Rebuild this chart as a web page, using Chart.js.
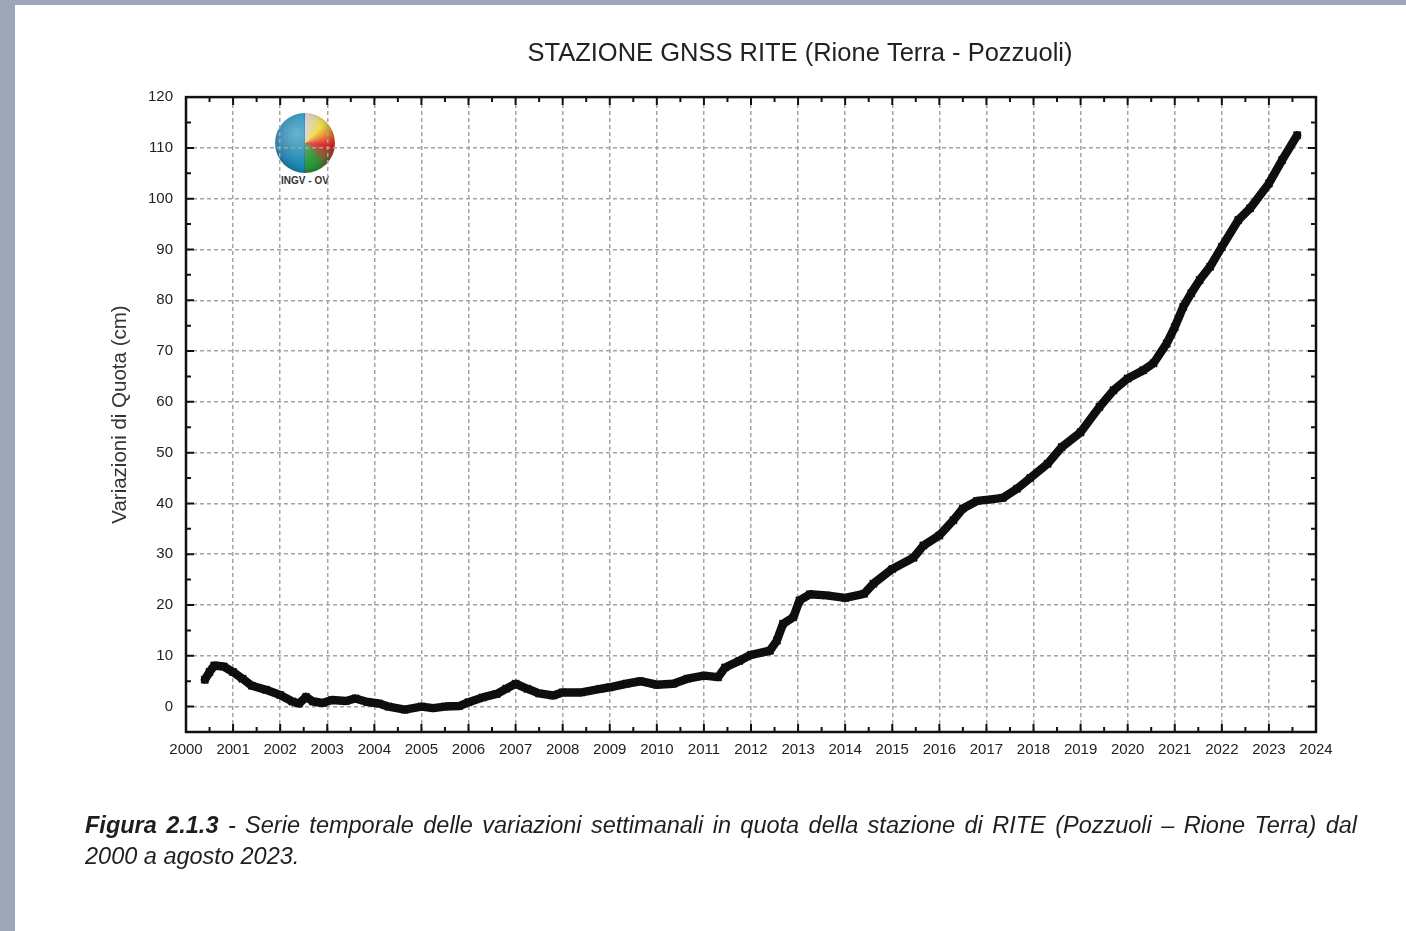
<!DOCTYPE html>
<html>
<head>
<meta charset="utf-8">
<script src="https://cdn.jsdelivr.net/npm/chart.js@4.4.1/dist/chart.umd.min.js"></script>
<style>
  html, body { margin: 0; padding: 0; }
  body { width: 1406px; height: 931px; background: #9ba7b8; position: relative; overflow: hidden; font-family: "Liberation Sans", Arial, sans-serif; }
  #page { position: absolute; left: 15px; top: 5px; width: 1391px; height: 926px; background: #ffffff; }
  #wrap { position: absolute; left: 0; top: 0; width: 1406px; height: 931px; }
  #logo { position: absolute; left: 275px; top: 113px; width: 60px; height: 60px; border-radius: 50%;
    background:
      radial-gradient(circle at 35% 35%, rgba(255,255,255,0.35), rgba(255,255,255,0) 55%),
      linear-gradient(90deg, #1b78a6 0%, #1f8fb8 48%, transparent 48%),
      conic-gradient(from 0deg at 50% 50%, #d8c4d8 0deg, #e8dd3a 45deg, #e4262a 95deg, #2f9a3c 150deg, #2f9a3c 180deg, #1b78a6 180deg);
    box-shadow: inset -3px -3px 6px rgba(0,0,0,0.25); }
  #logoText { position: absolute; left: 265px; top: 175px; width: 80px; text-align: center; font-size: 10px; font-weight: bold; color: #333; }
  #caption { position: absolute; left: 85px; top: 810px; width: 1272px; font-size: 23.5px; font-style: italic; color: #1e1e1e; line-height: 31px; }
  #caption .l1 { text-align: justify; text-align-last: justify; white-space: nowrap; }
</style>
</head>
<body>
<div id="page"></div>
<div id="logo"></div>
<div id="logoText">INGV - OV</div>
<div id="wrap"><canvas id="c" width="1406" height="931"></canvas></div>
<div id="caption">
  <div class="l1"><b>Figura 2.1.3</b> - Serie temporale delle variazioni settimanali in quota della stazione di RITE (Pozzuoli – Rione Terra) dal</div>
  <div>2000 a agosto 2023.</div>
</div>
<script>
// ---- data ----
const years = [2000.40, 2000.50, 2000.60, 2000.80, 2001.00, 2001.20, 2001.40, 2001.70, 2002.00, 2002.26,
  2002.40, 2002.55, 2002.70, 2002.90, 2003.10, 2003.40, 2003.60, 2003.85, 2004.10, 2004.30,
  2004.65, 2005.00, 2005.25, 2005.50, 2005.80, 2006.00, 2006.30, 2006.60, 2006.80, 2007.00,
  2007.25, 2007.50, 2007.80, 2008.00, 2008.40, 2008.80, 2009.00, 2009.35, 2009.65, 2010.00,
  2010.35, 2010.65, 2011.00, 2011.30, 2011.45, 2011.75, 2012.00, 2012.40, 2012.55, 2012.68,
  2012.90, 2013.03, 2013.25, 2013.60, 2014.00, 2014.40, 2014.60, 2015.00, 2015.45, 2015.66,
  2016.00, 2016.30, 2016.50, 2016.80, 2017.00, 2017.35, 2017.65, 2017.93, 2018.30, 2018.60,
  2019.00, 2019.40, 2019.70, 2020.00, 2020.33, 2020.55, 2020.83, 2021.00, 2021.18, 2021.35,
  2021.53, 2021.75, 2022.00, 2022.35, 2022.60, 2023.00, 2023.28, 2023.60];
const quota = [5.3, 6.8, 8.1, 7.9, 6.8, 5.5, 4.1, 3.3, 2.3, 1.0,
  0.6, 1.9, 1.0, 0.7, 1.3, 1.1, 1.6, 0.9, 0.6, 0.0,
  -0.6, 0.0, -0.3, 0.0, 0.1, 0.85, 1.8, 2.5, 3.5, 4.5,
  3.5, 2.6, 2.2, 2.8, 2.8, 3.5, 3.8, 4.5, 5.0, 4.3,
  4.5, 5.5, 6.1, 5.8, 7.7, 9.0, 10.2, 11.0, 13.0, 16.3,
  17.6, 20.9, 22.1, 21.9, 21.4, 22.2, 24.2, 27.1, 29.3, 31.7,
  33.7, 36.7, 39.0, 40.5, 40.7, 41.1, 42.9, 45.0, 47.8, 51.1,
  54.0, 59.0, 62.3, 64.6, 66.2, 67.6, 71.5, 74.7, 78.7, 81.4,
  84.0, 86.6, 90.5, 95.8, 98.1, 103.0, 107.6, 112.5];
const xTickLabels = [2000, 2001, 2002, 2003, 2004, 2005, 2006, 2007, 2008, 2009, 2010, 2011, 2012,
  2013, 2014, 2015, 2016, 2017, 2018, 2019, 2020, 2021, 2022, 2023, 2024];
const yTickLabels = [0, 10, 20, 30, 40, 50, 60, 70, 80, 90, 100, 110, 120];
const chartTitle = 'STAZIONE GNSS RITE (Rione Terra - Pozzuoli)';
const yTitle = 'Variazioni di Quota (cm)';

const points = years.map((x, i) => ({ x: x, y: quota[i] }));

const framePlugin = {
  id: 'frame',
  afterLayout(chart) {
    const t = chart.titleBlock;
    if (t) { t.left = 284; t.right = 1316; t.width = t.right - t.left; }
  },
  afterDraw(chart) {
    const { ctx, chartArea: a, scales: { x, y } } = chart;
    ctx.save();
    ctx.strokeStyle = '#111';
    ctx.lineWidth = 2;
    ctx.beginPath();
    for (let i = 0; i < xTickLabels.length; i++) {
      const px = x.getPixelForValue(xTickLabels[i]);
      ctx.moveTo(px, a.bottom); ctx.lineTo(px, a.bottom - 8);
      ctx.moveTo(px, a.top); ctx.lineTo(px, a.top + 8);
      if (i < xTickLabels.length - 1) {
        const pm = x.getPixelForValue((xTickLabels[i] + xTickLabels[i + 1]) / 2);
        ctx.moveTo(pm, a.bottom); ctx.lineTo(pm, a.bottom - 5);
        ctx.moveTo(pm, a.top); ctx.lineTo(pm, a.top + 5);
      }
    }
    for (let i = 0; i < yTickLabels.length; i++) {
      const py = y.getPixelForValue(yTickLabels[i]);
      ctx.moveTo(a.left, py); ctx.lineTo(a.left + 8, py);
      ctx.moveTo(a.right, py); ctx.lineTo(a.right - 8, py);
      const pm = y.getPixelForValue(yTickLabels[i] - 5);
      ctx.moveTo(a.left, pm); ctx.lineTo(a.left + 5, pm);
      ctx.moveTo(a.right, pm); ctx.lineTo(a.right - 5, pm);
    }
    ctx.stroke();
    ctx.lineWidth = 2.5;
    ctx.strokeRect(a.left, a.top, a.right - a.left, a.bottom - a.top);
    ctx.restore();
  }
};

new Chart(document.getElementById('c'), {
  type: 'line',
  data: {
    datasets: [{
      data: points,
      borderColor: '#0e0e0e',
      backgroundColor: '#0e0e0e',
      borderWidth: 8.5,
      borderJoinStyle: 'round',
      borderCapStyle: 'round',
      pointStyle: 'crossRot',
      pointRadius: 5,
      pointBorderWidth: 2,
      tension: 0,
      fill: false
    }]
  },
  options: {
    responsive: false,
    animation: false,
    layout: { padding: { left: 105, right: 90, top: 0, bottom: 159 } },
    plugins: {
      legend: { display: false },
      tooltip: { enabled: false },
      title: {
        display: true,
        text: chartTitle,
        color: '#222',
        font: { family: '"Liberation Sans", Arial, sans-serif', size: 25.5, weight: 'normal' },
        padding: { top: 39, bottom: 27.5 }
      }
    },
    scales: {
      x: {
        type: 'linear',
        min: 2000, max: 2024,
        afterBuildTicks: s => { s.ticks = xTickLabels.map(v => ({ value: v })); },
        afterFit: s => { s.height = 40; },
        ticks: {
          color: '#222',
          padding: 9,
          maxRotation: 0,
          autoSkip: false,
          font: { family: '"Liberation Sans", Arial, sans-serif', size: 15 },
          callback: v => String(v)
        },
        grid: { color: '#a4a4a4', lineWidth: 1.5, drawTicks: false },
        border: { display: false, dash: [4, 3] }
      },
      y: {
        type: 'linear',
        min: -5, max: 120,
        afterBuildTicks: s => { s.ticks = yTickLabels.map(v => ({ value: v })); },
        afterFit: s => { s.width = 81; },
        ticks: {
          color: '#222',
          padding: 13,
          autoSkip: false,
          font: { family: '"Liberation Sans", Arial, sans-serif', size: 15 },
          callback: v => String(v)
        },
        grid: { color: '#a4a4a4', lineWidth: 1.5, drawTicks: false },
        border: { display: false, dash: [4, 3] },
        title: {
          display: true,
          text: yTitle,
          color: '#333',
          font: { family: '"Liberation Sans", Arial, sans-serif', size: 20.5 },
          padding: { top: 3, bottom: 3 }
        }
      }
    }
  },
  plugins: [framePlugin]
});
</script>
</body>
</html>
